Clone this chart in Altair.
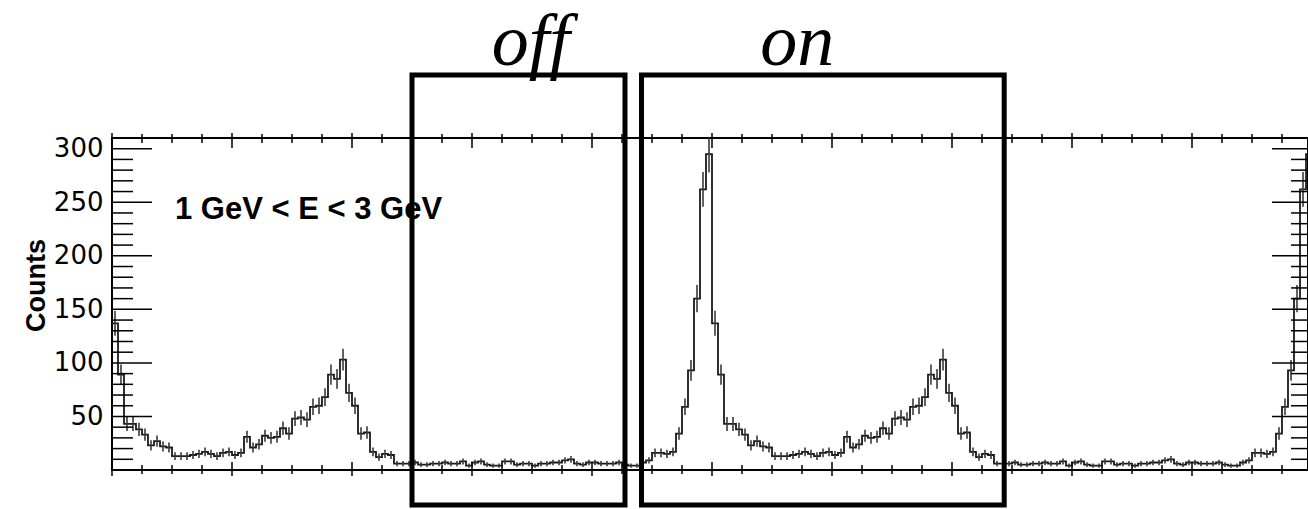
import altair as alt
import pandas as pd
import math

# ---- data (counts per phase bin, 100 bins per cycle) ----
counts_cycle = [
    137, 89, 43, 43, 38, 33, 23, 27, 22, 21,
    13, 13, 13, 14, 15, 17, 15, 13, 16, 17,
    14, 16, 31, 21, 24, 32, 30, 31, 39, 34,
    48, 49, 47, 59, 60, 68, 89, 85, 103, 72,
    60, 34, 35, 17, 12, 15, 14, 6, 6, 6,
    7, 5, 5, 6, 6, 7, 6, 6, 8, 4,
    7, 8, 5, 4, 4, 8, 8, 5, 6, 6,
    4, 6, 6, 7, 7, 9, 10, 6, 5, 7,
    7, 6, 6, 6, 7, 5, 4, 4, 7, 9,
    16, 16, 15, 17, 34, 59, 93, 160, 262, 295,
]
n_cycles = 2
bins_per_cycle = 100

y_label_values = [50, 100, 150, 200, 250, 300]
y_minor_values = [10, 20, 30, 40, 60, 70, 80, 90, 110, 120, 130, 140, 160, 170, 180, 190,
                  210, 220, 230, 240, 260, 270, 280, 290, 310]
x_tick_values = [round(i * 0.05, 2) for i in range(41)]
x_major_values = [0.0, 0.2, 0.4, 0.6, 0.8, 1.0, 1.2, 1.4, 1.6, 1.8, 2.0]

box_names = ["off", "on"]
box_start = [0.50, 0.8825]
box_end = [0.855, 1.487]
box_label_x = [0.698, 1.142]

energy_label = "1 GeV < E < 3 GeV"

X_MAX = 1.99333
Y_MAX = 310
W, H = 1196, 332
XPIX_END = 1200  # pixel position of phase 2.0 (frame right edge, just outside the window)

# ---- tables ----
values = counts_cycle * n_cycles
nb = len(values)
step_df = pd.DataFrame({
    "phase": [i / bins_per_cycle for i in range(nb)] + [nb / bins_per_cycle],
    "counts": values + [values[-1]],
})
err_df = pd.DataFrame({
    "phase": [(i + 0.5) / bins_per_cycle for i in range(nb)],
    "lo": [v - math.sqrt(v) for v in values],
    "hi": [v + math.sqrt(v) for v in values],
})
xt_min_df = pd.DataFrame({"x": [v for v in x_tick_values if v not in x_major_values]})
xt_maj_df = pd.DataFrame({"x": x_major_values})
ymaj_df = pd.DataFrame({"y": y_label_values})
ymin_df = pd.DataFrame({"y": y_minor_values})
box_df = pd.DataFrame({"name": box_names, "x0": box_start, "x1": box_end,
                       "lx": box_label_x, "top": [368.8] * 2, "bottom": [-32.7] * 2,
                       "ly": [378.2] * 2})
lab_df = pd.DataFrame({"t": [energy_label], "x": [0.105], "y": [234.4]})

xs = alt.Scale(domain=[0, X_MAX], nice=False, zero=False)
ys = alt.Scale(domain=[0, Y_MAX], nice=False, zero=False)
yaxis = alt.Axis(values=y_label_values, title="Counts", grid=False,
                 domain=False, ticks=False, labelPadding=9,
                 labelFont="DejaVu Sans", labelFontSize=26,
                 labelColor="black", titleFont="Liberation Sans",
                 titleFontSize=27, titleFontWeight="bold",
                 titleColor="black", titleAngle=270, titleX=-68,
                 titleY=147, titleAlign="center",
                 titleBaseline="alphabetic")


def Y(field):
    return alt.Y(field, scale=ys, axis=yaxis, title="Counts")


hist = alt.Chart(step_df).mark_line(
    interpolate="step-after", color="#1a1a1a", strokeWidth=1.8, clip=True
).encode(
    x=alt.X("phase:Q", scale=xs, axis=None),
    y=Y("counts:Q"),
)

errs = alt.Chart(err_df).mark_rule(color="#3a3a3a", strokeWidth=1.6, clip=True).encode(
    x=alt.X("phase:Q", scale=xs, axis=None),
    y=Y("lo:Q"),
    y2="hi:Q",
)


def xticks(df, y0, y1):
    return alt.Chart(df).mark_rule(color="black", strokeWidth=1.5, clip=False).encode(
        x=alt.X("x:Q", scale=xs, axis=None),
        y=alt.value(y0), y2=alt.value(y1))


def yticks(df, x0, x1, clip):
    return alt.Chart(df).mark_rule(color="black", strokeWidth=1.5, clip=clip).encode(
        y=Y("y:Q"),
        x=alt.value(x0), x2=alt.value(x1))


tick_layers = [
    xticks(xt_min_df, -4, 5), xticks(xt_maj_df, -5, 10),
    xticks(xt_min_df, H - 5, H + 4), xticks(xt_maj_df, H - 8, H + 6),
    yticks(ymaj_df, 0, 40, False), yticks(ymin_df, 0, 21, False),
    yticks(ymaj_df, XPIX_END - 40, XPIX_END, True), yticks(ymin_df, XPIX_END - 21, XPIX_END, True),
]

energy = alt.Chart(lab_df).mark_text(
    align="left", baseline="alphabetic", font="Liberation Sans", fontSize=31,
    fontWeight="bold", color="black").encode(
    x=alt.X("x:Q", scale=xs, axis=None),
    y=Y("y:Q"),
    text="t:N")

boxes = alt.Chart(box_df).mark_rect(
    fillOpacity=0, stroke="black", strokeWidth=5, clip=False).encode(
    x=alt.X("x0:Q", scale=xs, axis=None), x2="x1:Q",
    y=Y("top:Q"), y2="bottom:Q")

box_text = alt.Chart(box_df).mark_text(
    align="center", baseline="alphabetic", font="Liberation Serif", fontSize=74,
    fontStyle="italic", color="black").encode(
    x=alt.X("lx:Q", scale=xs, axis=None),
    y=Y("ly:Q"),
    text="name:N")

chart = alt.layer(
    hist, errs, *tick_layers, energy, boxes, box_text
).properties(
    width=W, height=H,
    autosize=alt.AutoSizeParams(type="none"),
    padding={"left": 112, "top": 138, "right": 0, "bottom": 39},
    background="white",
).configure_view(stroke="black", strokeWidth=2)

chart.save("out.html", embed_options={"renderer": "svg", "actions": False})
